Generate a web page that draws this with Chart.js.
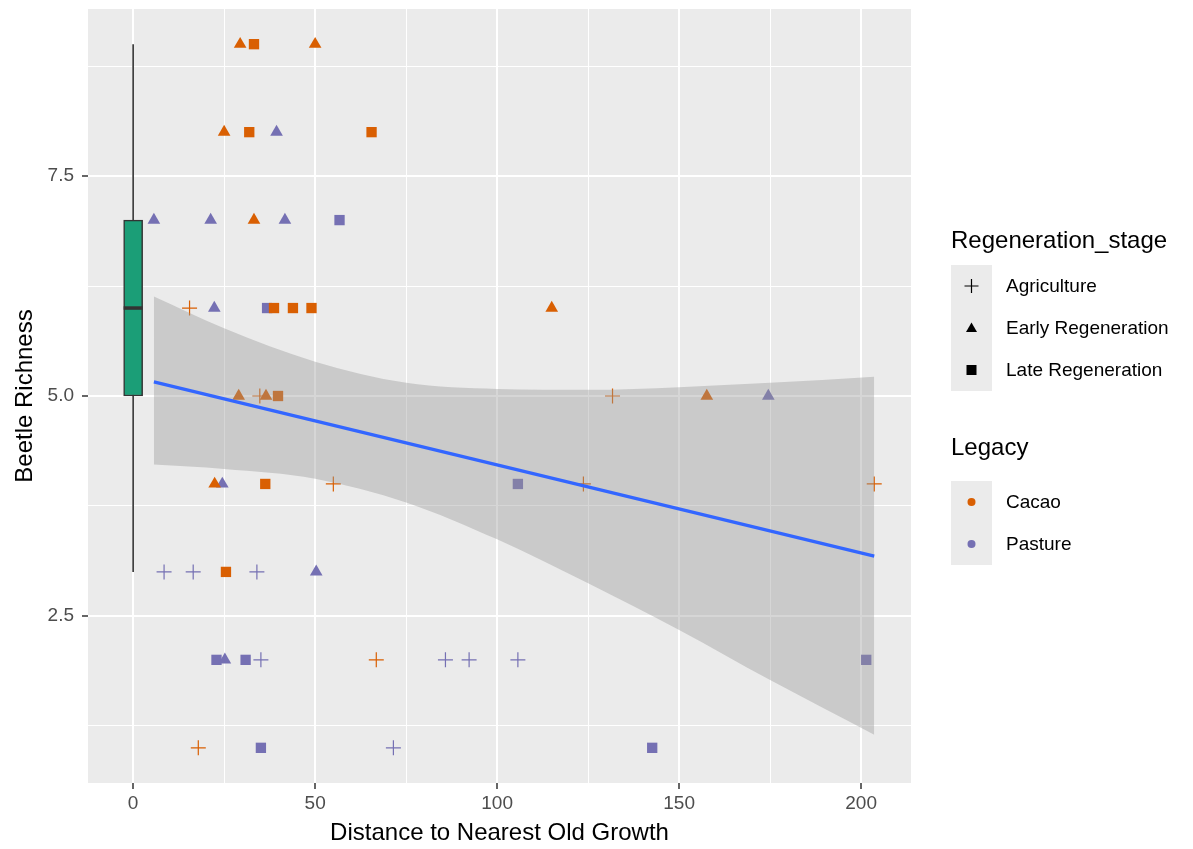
<!DOCTYPE html>
<html lang="en">
<head>
<meta charset="UTF-8">
<title>Beetle Richness vs Distance to Nearest Old Growth</title>
<script src="https://cdn.jsdelivr.net/npm/chart.js"></script>
<style>
  body { margin: 0; background: #fff; font-family: "Liberation Sans", Arial, sans-serif; }
  #wrap { position: relative; width: 1193px; height: 849px; }
  .legend { position: absolute; left: 951px; color: #000; }
  .legend .title { font-size: 24px; line-height: 28px; white-space: nowrap; }
  .legend .row { display: flex; align-items: center; height: 42px; }
  .legend .key { width: 41px; height: 42px; background: #EBEBEB; }
  .legend .key svg { display: block; }
  .legend .lab { font-size: 19px; margin-left: 14px; white-space: nowrap; }
</style>
</head>
<body>
<div id="wrap">
  <canvas id="chart" width="1193" height="849"></canvas>

  <div class="legend" style="top:226px">
    <div class="title">Regeneration_stage</div>
    <div style="margin-top:11px">
      <div class="row"><div class="key"><svg width="41" height="42"><path d="M13.5 21H27.5M20.5 14V28" stroke="#000" stroke-width="1.2"/></svg></div><div class="lab">Agriculture</div></div>
      <div class="row"><div class="key"><svg width="41" height="42"><polygon points="20.5,15.5 26,25 15,25" fill="#000"/></svg></div><div class="lab">Early Regeneration</div></div>
      <div class="row"><div class="key"><svg width="41" height="42"><rect x="15.5" y="16" width="10" height="10" fill="#000"/></svg></div><div class="lab">Late Regeneration</div></div>
    </div>
  </div>

  <div class="legend" style="top:433px">
    <div class="title">Legacy</div>
    <div style="margin-top:20px">
      <div class="row"><div class="key"><svg width="41" height="42"><circle cx="20.5" cy="21" r="4" fill="#D95F02"/></svg></div><div class="lab">Cacao</div></div>
      <div class="row"><div class="key"><svg width="41" height="42"><circle cx="20.5" cy="21" r="4" fill="#7570B3"/></svg></div><div class="lab">Pasture</div></div>
    </div>
  </div>
</div>

<script>
// points: distance (x) and beetle richness (y)
const cacaoAgriX = [15.5, 17.9, 34.8, 55.0, 66.8, 123.7, 131.7, 203.6];
const cacaoAgriY = [6, 1, 5, 4, 2, 4, 5, 4];
const cacaoEarlyX = [22.4, 25.0, 29.0, 29.4, 33.2, 36.5, 50.0, 115.0, 157.6];
const cacaoEarlyY = [4, 8, 5, 9, 7, 5, 9, 6, 5];
const cacaoLateX = [25.5, 31.9, 33.2, 36.3, 38.7, 39.8, 43.9, 49.0, 65.5];
const cacaoLateY = [3, 8, 9, 4, 6, 5, 6, 6, 8];
const pastureAgriX = [8.5, 16.5, 34.0, 35.1, 71.5, 85.8, 92.3, 105.7];
const pastureAgriY = [3, 3, 3, 2, 1, 2, 2, 2];
const pastureEarlyX = [5.7, 21.3, 22.3, 24.5, 25.2, 39.4, 41.7, 50.3, 174.5];
const pastureEarlyY = [7, 7, 6, 4, 2, 8, 7, 3, 5];
const pastureLateX = [22.9, 30.9, 35.1, 36.8, 56.7, 105.7, 142.6, 201.4];
const pastureLateY = [2, 2, 1, 6, 7, 4, 1, 2];

// boxplot of richness at distance 0
const boxX = 0;
const boxHalfWidth = 2.6;
const boxStats = [3, 5, 6, 7, 9]; // lower whisker, q1, median, q3, upper whisker

// linear fit and its confidence band
const fitX = [5.7, 203.6];
const fitY = [5.16, 3.18];
const bandX = [5.7, 25, 50, 75, 100, 125, 150, 175, 203.6];
const bandUpper = [6.13, 5.77, 5.39, 5.15, 5.08, 5.07, 5.10, 5.15, 5.22];
const bandLower = [4.22, 4.17, 4.06, 3.79, 3.37, 2.87, 2.34, 1.77, 1.15];

// axes
const xRange = [-12.4, 213.7];
const yRange = [0.6, 9.4];
const xMajor = [0, 50, 100, 150, 200];
const xMinor = [25, 75, 125, 175];
const yMajor = [2.5, 5, 7.5];
const yMinor = [1.25, 3.75, 6.25, 8.75];
const yTickLabels = ['2.5', '5.0', '7.5'];

const ORANGE = '#D95F02', PURPLE = '#7570B3';
const FONT = '"Liberation Sans", Arial, sans-serif';
const toXY = (xs, ys) => xs.map((x, i) => ({ x: x, y: ys[i] }));

function pts(label, xs, ys, color, style) {
  const cross = style === 'cross';
  return {
    type: 'scatter', label: label, order: 2,
    data: toXY(xs, ys),
    pointStyle: style,
    pointRadius: cross ? 7.5 : 7.3,
    pointHoverRadius: 7.5,
    backgroundColor: color,
    borderColor: color,
    borderWidth: cross ? 1.2 : 0
  };
}

const panelBg = {
  id: 'panelBg',
  beforeDraw(chart) {
    const { ctx, chartArea: a } = chart;
    ctx.save();
    ctx.fillStyle = '#EBEBEB';
    ctx.fillRect(a.left, a.top, a.right - a.left, a.bottom - a.top);
    ctx.restore();
  }
};

function isMajor(c) {
  if (!c.tick) return false;
  const list = c.scale.axis === 'x' ? xMajor : yMajor;
  return list.some(m => Math.abs(m - c.tick.value) < 1e-9);
}

function gridOpts() {
  return {
    offset: false,
    color: '#FFFFFF',
    lineWidth: c => isMajor(c) ? 2 : 1,
    tickColor: c => isMajor(c) ? '#333333' : 'rgba(0,0,0,0)',
    tickWidth: 1.5, tickLength: 6, drawTicks: true
  };
}

new Chart(document.getElementById('chart'), {
  type: 'scatter',
  data: {
    datasets: [
      {
        type: 'line', label: 'fit', order: 0,
        data: toXY(fitX, fitY),
        borderColor: '#3366FF', borderWidth: 3.2,
        pointRadius: 0, fill: false
      },
      {
        type: 'line', label: 'upper', order: 1,
        data: toXY(bandX, bandUpper),
        borderWidth: 0, borderColor: 'rgba(0,0,0,0)',
        backgroundColor: 'rgba(153,153,153,0.4)',
        pointRadius: 0, fill: '+1', cubicInterpolationMode: 'monotone'
      },
      {
        type: 'line', label: 'lower', order: 1,
        data: toXY(bandX, bandLower),
        borderWidth: 0, borderColor: 'rgba(0,0,0,0)',
        pointRadius: 0, fill: false, cubicInterpolationMode: 'monotone'
      },
      pts('Cacao Agriculture', cacaoAgriX, cacaoAgriY, ORANGE, 'cross'),
      pts('Cacao Early', cacaoEarlyX, cacaoEarlyY, ORANGE, 'triangle'),
      pts('Cacao Late', cacaoLateX, cacaoLateY, ORANGE, 'rect'),
      pts('Pasture Agriculture', pastureAgriX, pastureAgriY, PURPLE, 'cross'),
      pts('Pasture Early', pastureEarlyX, pastureEarlyY, PURPLE, 'triangle'),
      pts('Pasture Late', pastureLateX, pastureLateY, PURPLE, 'rect'),
      {
        type: 'line', label: 'median', order: 3,
        data: [{ x: boxX - boxHalfWidth, y: boxStats[2] }, { x: boxX + boxHalfWidth, y: boxStats[2] }],
        borderColor: '#333333', borderWidth: 3.5, pointRadius: 0, fill: false
      },
      {
        type: 'bar', label: 'box', order: 4,
        data: [{ x: boxX, y: [boxStats[1], boxStats[3]] }],
        backgroundColor: '#1B9E77', borderColor: '#333333',
        borderWidth: 1.5, borderSkipped: false, barThickness: 19
      },
      {
        type: 'line', label: 'whisker', order: 5,
        data: [{ x: boxX, y: boxStats[0] }, { x: boxX, y: boxStats[4] }],
        borderColor: '#333333', borderWidth: 1.6, pointRadius: 0, fill: false
      }
    ]
  },
  options: {
    responsive: false,
    animation: false,
    layout: { padding: { top: 9, right: 282, left: 0, bottom: 0 } },
    plugins: { legend: { display: false }, tooltip: { enabled: false } },
    scales: {
      x: {
        type: 'linear', min: xRange[0], max: xRange[1],
        offset: false,
        afterBuildTicks: s => { s.ticks = xMajor.concat(xMinor).sort((a, b) => a - b).map(v => ({ value: v })); },
        afterFit: s => { s.height = 66; s.paddingLeft = 0; s.paddingRight = 0; },
        border: { display: false },
        grid: gridOpts(),
        ticks: {
          autoSkip: false, maxRotation: 0, padding: 3,
          color: '#4D4D4D',
          font: { family: FONT, size: 19 },
          callback: function(v) { return xMajor.includes(v) ? String(v) : ''; }
        },
        title: {
          display: true, text: 'Distance to Nearest Old Growth', color: '#000',
          font: { family: FONT, size: 24 },
          padding: { top: 0, bottom: 1 }
        }
      },
      y: {
        type: 'linear', min: yRange[0], max: yRange[1],
        afterBuildTicks: s => { s.ticks = yMajor.concat(yMinor).sort((a, b) => a - b).map(v => ({ value: v })); },
        afterFit: s => { s.width = 88; s.paddingTop = 0; s.paddingBottom = 0; },
        border: { display: false },
        grid: gridOpts(),
        ticks: {
          autoSkip: false, padding: 8,
          color: '#4D4D4D',
          font: { family: FONT, size: 19 },
          callback: function(v) {
            const i = yMajor.findIndex(m => Math.abs(m - v) < 1e-9);
            return i >= 0 ? yTickLabels[i] : '';
          }
        },
        title: {
          display: true, text: 'Beetle Richness', color: '#000',
          font: { family: FONT, size: 24 },
          padding: { top: 11, bottom: 0 }
        }
      }
    }
  },
  plugins: [panelBg]
});
</script>
</body>
</html>
